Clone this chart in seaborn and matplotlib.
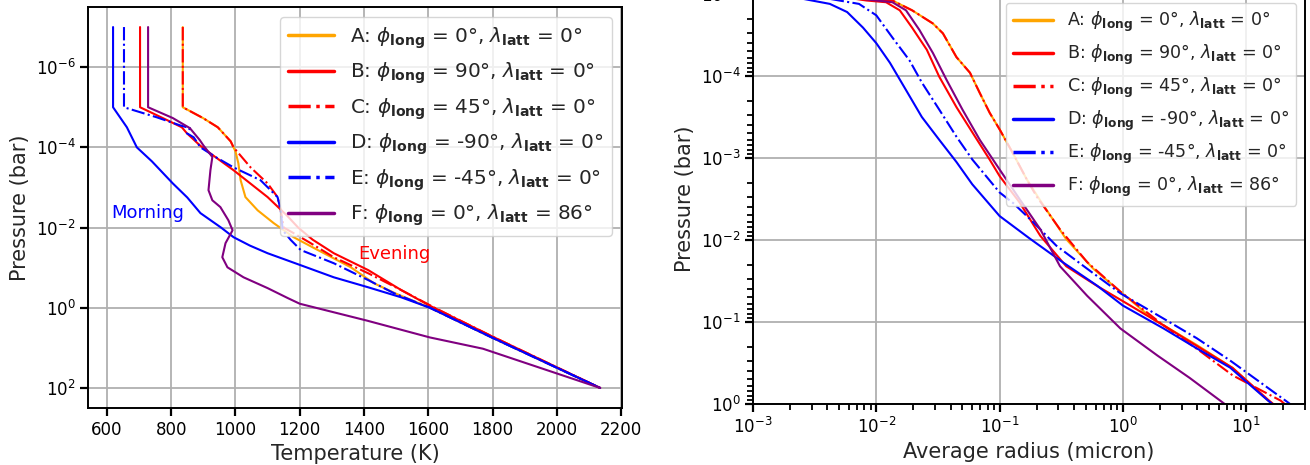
import numpy as np
import pandas as pd
import matplotlib
matplotlib.use("Agg")
import matplotlib.pyplot as plt
import seaborn as sns
from matplotlib.ticker import NullLocator, FixedLocator, LogFormatterSciNotation, NullFormatter

# ---------------- Left panel: temperature profiles ----------------
T_A = [836, 836, 899, 945, 985, 1000, 1009, 1016, 1031, 1069, 1119, 1181, 1256, 1359, 1431, 1500, 1605, 1800, 2135]
P_A = [1e-7, 1e-5, 1.86e-5, 3.16e-5, 7.08e-5, 1.26e-4, 2.51e-4, 6.6e-4, 1.74e-3, 3.72e-3, 7.76e-3, 1.74e-2,
       3.63e-2, 9.8e-2, 0.245, 0.447, 1.0, 5.62, 100]

T_B = [703, 703, 787, 833, 849, 889, 930, 994, 1100, 1160, 1195, 1240, 1306, 1413, 1516, 1605, 1800, 2135]
P_B = [1e-7, 1e-5, 2.09e-5, 3.16e-5, 4.47e-5, 8.9e-5, 1.58e-4, 3.72e-4, 1.74e-3, 5.0e-3, 1.0e-2, 2.0e-2,
       4.37e-2, 0.115, 0.363, 0.89, 5.25, 100]

T_C = [836, 836, 899, 945, 985, 994, 1047, 1100, 1131, 1141, 1150, 1181, 1234, 1306, 1413, 1516, 1620, 1800, 2135]
P_C = [1e-7, 1e-5, 1.86e-5, 3.16e-5, 7.08e-5, 1.0e-4, 3.16e-4, 7.94e-4, 1.74e-3, 3.72e-3, 1.0e-2, 1.38e-2,
       2.45e-2, 5.5e-2, 0.138, 0.363, 1.0, 5.25, 100]

T_D = [619, 619, 662, 693, 740, 805, 850, 891, 955, 994, 1045, 1100, 1203, 1306, 1413, 1516, 1605, 1800, 2135]
P_D = [1e-7, 1e-5, 3.16e-5, 1e-4, 2.24e-4, 7.94e-4, 1.78e-3, 4.37e-3, 1.0e-2, 1.74e-2, 2.82e-2, 4.37e-2,
       8.7e-2, 0.174, 0.309, 0.55, 1.0, 5.62, 100]

T_E = [653, 653, 755, 827, 858, 849, 870, 891, 940, 994, 1078, 1131, 1141, 1147, 1172, 1203, 1306, 1413,
       1494, 1605, 1800, 2135]
P_E = [1e-7, 1e-5, 1.78e-5, 2.82e-5, 3.31e-5, 4.47e-5, 5.62e-5, 1.0e-4, 1.78e-4, 3.16e-4, 6.6e-4, 1.74e-3,
       3.72e-3, 1.17e-2, 2.04e-2, 3.63e-2, 7.76e-2, 0.204, 0.437, 1.0, 5.62, 100]

T_F = [728, 728, 805, 858, 889, 900, 928, 922, 916, 928, 953, 978, 991, 969, 959, 975, 1025, 1100, 1163,
       1200, 1409, 1605, 1770, 2135]
P_F = [1e-7, 1e-5, 1.86e-5, 3.31e-5, 6.6e-5, 8.9e-5, 1.74e-4, 3.72e-4, 1.17e-3, 2.09e-3, 3.09e-3, 6.6e-3,
       1.17e-2, 2.45e-2, 5.5e-2, 9.8e-2, 0.174, 0.324, 0.575, 0.794, 2.09, 5.5, 10.5, 100]

# ---------------- Right panel: average particle radius ----------------
R_A = [0.0050, 0.0135, 0.0195, 0.0288, 0.0347, 0.0447, 0.0575, 0.0692, 0.0832, 0.10, 0.129, 0.166, 0.214,
       0.347, 0.575, 0.955, 1.74, 3.98, 7.76, 15.1, 18.2]
PR_A = [1.12e-5, 1.2e-5, 1.58e-5, 2.29e-5, 3.02e-5, 5.89e-5, 9.12e-5, 1.62e-4, 2.82e-4, 4.47e-4, 8.9e-4,
        1.82e-3, 3.31e-3, 9.77e-3, 2.24e-2, 4.27e-2, 9.12e-2, 0.191, 0.363, 0.912, 1.12]

R_B = [0.0050, 0.0083, 0.0120, 0.0155, 0.0195, 0.0257, 0.0324, 0.0447, 0.0603, 0.0832, 0.10, 0.145,
       0.214, 0.347, 0.617, 1.15, 2.14, 4.27, 7.76, 15.1, 18.2]
PR_B = [1.07e-5, 1.2e-5, 1.26e-5, 1.58e-5, 2.57e-5, 4.79e-5, 1.02e-4, 2.4e-4, 4.9e-4, 1.05e-3, 1.66e-3,
        3.47e-3, 8.9e-3, 2.09e-2, 3.63e-2, 6.31e-2, 0.11, 0.209, 0.363, 0.891, 1.12]

R_C = [0.0050, 0.0135, 0.0195, 0.0288, 0.0347, 0.0447, 0.0575, 0.0692, 0.0832, 0.10, 0.129, 0.166, 0.20,
       0.309, 0.513, 0.955, 2.14, 4.27, 7.76, 19.1, 22.4]
PR_C = [1.12e-5, 1.2e-5, 1.58e-5, 2.29e-5, 3.02e-5, 5.89e-5, 9.12e-5, 1.62e-4, 2.82e-4, 4.47e-4, 8.9e-4,
        1.82e-3, 2.95e-3, 7.41e-3, 1.86e-2, 4.27e-2, 0.11, 0.229, 0.447, 0.912, 1.12]

R_D = [0.0020, 0.0030, 0.0042, 0.0058, 0.0078, 0.010, 0.0129, 0.0174, 0.0234, 0.0324, 0.0447, 0.060, 0.10,
       0.174, 0.324, 0.617, 1.0, 2.14, 3.98, 7.41, 14.8, 17.8]
PR_D = [1.07e-5, 1.2e-5, 1.32e-5, 1.66e-5, 2.57e-5, 3.98e-5, 6.9e-5, 1.48e-4, 3.16e-4, 6.0e-4, 1.12e-3,
        2.09e-3, 5.1e-3, 9.5e-3, 1.86e-2, 3.6e-2, 6.3e-2, 0.12, 0.21, 0.36, 0.89, 1.12]

R_E = [0.00251, 0.0050, 0.00724, 0.010, 0.0135, 0.0186, 0.0234, 0.0324, 0.0447, 0.0603, 0.10, 0.129, 0.186,
       0.288, 0.513, 0.955, 2.14, 3.98, 7.41, 20.9, 25.1]
PR_E = [1.0e-5, 1.2e-5, 1.32e-5, 1.82e-5, 3.39e-5, 6.46e-5, 1.2e-4, 2.57e-4, 5.5e-4, 1.05e-3, 2.63e-3,
        3.55e-3, 6.0e-3, 1.17e-2, 2.24e-2, 4.47e-2, 9.1e-2, 0.158, 0.295, 0.912, 1.12]

R_F = [0.0050, 0.010, 0.0135, 0.0174, 0.0224, 0.0288, 0.0372, 0.050, 0.0692, 0.10, 0.145, 0.214, 0.309,
       0.513, 0.955, 1.91, 3.47, 6.17, 7.41]
PR_F = [1.07e-5, 1.2e-5, 1.26e-5, 1.58e-5, 2.75e-5, 5.25e-5, 1.12e-4, 2.57e-4, 6.03e-4, 1.38e-3, 3.16e-3,
        7.41e-3, 2.09e-2, 4.79e-2, 0.12, 0.257, 0.479, 0.912, 1.12]

LABELS = [
    r"A: $\phi_{\mathbf{long}}$ = 0°, $\lambda_{\mathbf{latt}}$ = 0°",
    r"B: $\phi_{\mathbf{long}}$ = 90°, $\lambda_{\mathbf{latt}}$ = 0°",
    r"C: $\phi_{\mathbf{long}}$ = 45°, $\lambda_{\mathbf{latt}}$ = 0°",
    r"D: $\phi_{\mathbf{long}}$ = -90°, $\lambda_{\mathbf{latt}}$ = 0°",
    r"E: $\phi_{\mathbf{long}}$ = -45°, $\lambda_{\mathbf{latt}}$ = 0°",
    r"F: $\phi_{\mathbf{long}}$ = 0°, $\lambda_{\mathbf{latt}}$ = 86°",
]
COLORS = ["orange", "red", "red", "blue", "blue", "purple"]
STYLES = ["-", "-", "-.", "-", "-.", "-"]

sns.set_theme(style="ticks")
plt.rcParams.update({
    "font.family": ["DejaVu Sans"],
    "mathtext.fontset": "dejavusans",
    "axes.edgecolor": "black",
    "axes.linewidth": 1.4,
    "xtick.color": "black",
    "ytick.color": "black",
    "xtick.major.width": 1.6,
    "ytick.major.width": 1.6,
    "xtick.major.size": 5.5,
    "ytick.major.size": 5.5,
    "xtick.minor.width": 1.3,
    "ytick.minor.width": 1.3,
    "xtick.minor.size": 4.0,
    "ytick.minor.size": 4.0,
    "xtick.minor.bottom": True,
    "ytick.minor.left": True,
    "xtick.direction": "out",
    "ytick.direction": "out",
})

fig = plt.figure(figsize=(13.1, 4.65), dpi=100)
ax1 = fig.add_axes([88 / 1310, 57 / 465, 534 / 1310, 401 / 465])
ax2 = fig.add_axes([753 / 1310, 61 / 465, 552 / 1310, 410 / 465])

left_sets = [(T_A, P_A), (T_B, P_B), (T_C, P_C), (T_D, P_D), (T_E, P_E), (T_F, P_F)]
right_sets = [(R_A, PR_A), (R_B, PR_B), (R_C, PR_C), (R_D, PR_D), (R_E, PR_E), (R_F, PR_F)]

ax1.set_yscale("log")
ax2.set_xscale("log")
ax2.set_yscale("log")

for (x, y), lab, c, ls in zip(left_sets, LABELS, COLORS, STYLES):
    df = pd.DataFrame({"T": x, "P": y})
    sns.lineplot(data=df, x="T", y="P", sort=False, estimator=None, ax=ax1,
                 color=c, linestyle=ls, linewidth=1.5, label=lab)

for (x, y), lab, c, ls in zip(right_sets, LABELS, COLORS, STYLES):
    df = pd.DataFrame({"r": x, "P": y})
    sns.lineplot(data=df, x="r", y="P", sort=False, estimator=None, ax=ax2,
                 color=c, linestyle=ls, linewidth=1.5, label=lab)

# left axes formatting
ax1.set_xlim(541, 2203)
ax1.set_ylim(10 ** 2.5, 10 ** -7.5)
ax1.set_xticks([600, 800, 1000, 1200, 1400, 1600, 1800, 2000, 2200])
ax1.set_yticks([1e-6, 1e-4, 1e-2, 1e0, 1e2])
ax1.yaxis.set_minor_locator(NullLocator())
ax1.set_xlabel("Temperature (K)", fontsize=15)
ax1.set_ylabel("Pressure (bar)", fontsize=15)
ax1.tick_params(labelsize=12)
ax1.grid(True, color="#b0b0b0", linewidth=1.3)
ax1.text(612, 4.4e-3, "Morning", color="blue", fontsize=13, va="center", ha="left")
ax1.text(1381, 4.6e-2, "Evening", color="red", fontsize=13, va="center", ha="left")
leg1 = ax1.legend(loc="upper right", fontsize=14.4, handlelength=2.3, framealpha=0.8)
for l in leg1.get_lines():
    l.set_linewidth(2.5)

# right axes formatting
ax2.set_xlim(1e-3, 30)
ax2.set_ylim(1e0, 1e-5)
x_major = [1e-3, 1e-2, 1e-1, 1e0, 1e1]
y_major = [1e-5, 1e-4, 1e-3, 1e-2, 1e-1, 1e0]
x_minor = [m * d for d in [1e-3, 1e-2, 1e-1, 1e0, 1e1] for m in range(2, 10) if m * d <= 30]
y_minor = [m * d for d in [1e-5, 1e-4, 1e-3, 1e-2, 1e-1] for m in range(2, 10)]
ax2.xaxis.set_major_locator(FixedLocator(x_major))
ax2.yaxis.set_major_locator(FixedLocator(y_major))
ax2.xaxis.set_major_formatter(LogFormatterSciNotation())
ax2.yaxis.set_major_formatter(LogFormatterSciNotation())
ax2.xaxis.set_minor_locator(FixedLocator(x_minor))
ax2.yaxis.set_minor_locator(FixedLocator(y_minor))
ax2.xaxis.set_minor_formatter(NullFormatter())
ax2.yaxis.set_minor_formatter(NullFormatter())
ax2.tick_params(which="minor", length=4.0, width=1.3, color="black",
                bottom=True, left=True, top=False, right=False)
ax2.set_xlabel("Average radius (micron)", fontsize=15)
ax2.set_ylabel("Pressure (bar)", fontsize=15)
ax2.tick_params(which="major", labelsize=12)
ax2.grid(True, which="major", color="#b0b0b0", linewidth=1.3)
leg2 = ax2.legend(loc="upper right", fontsize=12.6, handlelength=2.3, framealpha=0.8)
for l in leg2.get_lines():
    l.set_linewidth(2.5)

for ax in (ax1, ax2):
    for s in ax.spines.values():
        s.set_visible(True)
        s.set_color("black")
        s.set_linewidth(1.4)

fig.savefig("out.png", dpi=100)
